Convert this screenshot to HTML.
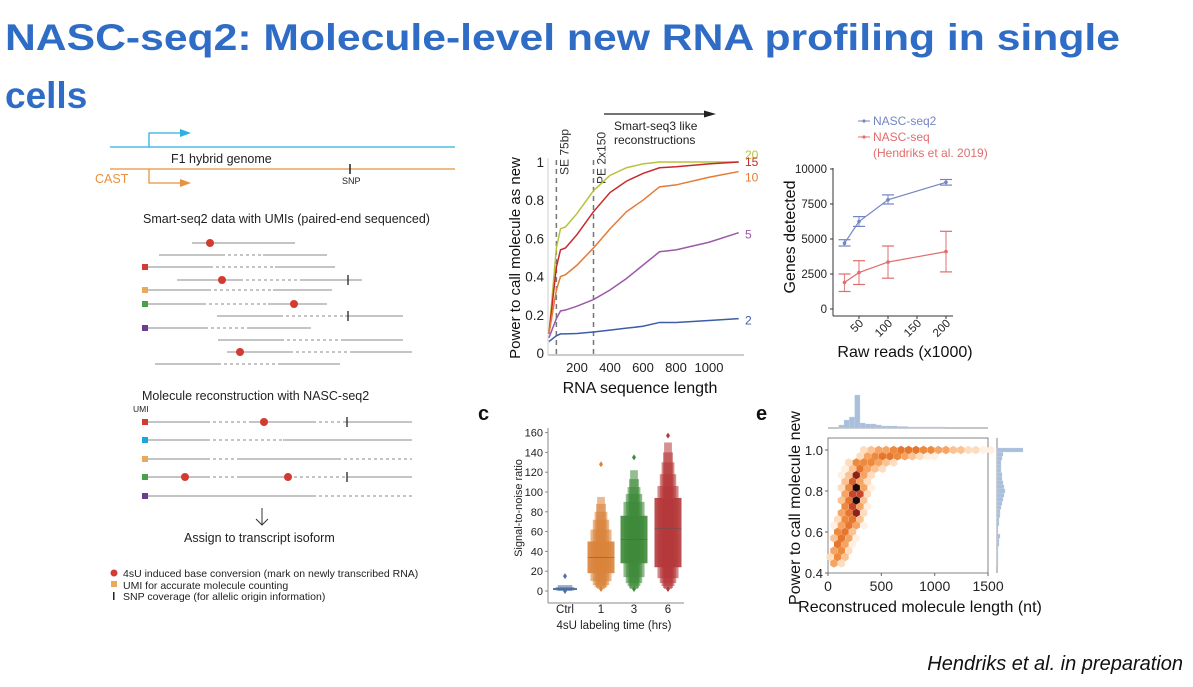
<!DOCTYPE html>
<html><head><meta charset="utf-8"><style>
body{margin:0;background:#fff;}
svg{display:block;font-family:"Liberation Sans",sans-serif;}
</style></head><body>
<svg id="s" width="1193" height="687" viewBox="0 0 1193 687" xmlns="http://www.w3.org/2000/svg">
<rect width="1193" height="687" fill="#fff"/>
<text x="5" y="50" font-size="37" font-weight="bold" fill="#2f6cc6" textLength="1115" lengthAdjust="spacingAndGlyphs">NASC-seq2: Molecule-level new RNA profiling in single</text>
<text x="5" y="108" font-size="37" font-weight="bold" fill="#2f6cc6">cells</text>

<g fill="none">
<line x1="110" y1="147" x2="455" y2="147" stroke="#2bb0e0" stroke-width="1.3"/>
<polyline points="149,147 149,133 180,133" stroke="#2bb0e0" stroke-width="1.3"/>
<polygon points="180,129 191,133 180,137" fill="#2bb0e0" stroke="none"/>
<line x1="110" y1="169" x2="455" y2="169" stroke="#e8913f" stroke-width="1.3"/>
<polyline points="149,169 149,183 180,183" stroke="#e8913f" stroke-width="1.3"/>
<polygon points="180,179 191,183 180,187" fill="#e8913f" stroke="none"/>
<line x1="350" y1="164" x2="350" y2="174" stroke="#222" stroke-width="1.5"/>
</g>
<text x="171" y="163" font-size="12.5" fill="#222">F1 hybrid genome</text>
<text x="95" y="183" font-size="12.5" fill="#e8913f">CAST</text>
<text x="342" y="184" font-size="9" fill="#222">SNP</text>
<text x="143" y="223" font-size="12.5" fill="#222">Smart-seq2 data with UMIs (paired-end sequenced)</text>
<g id="reads"></g>
<text x="142" y="400" font-size="12.5" fill="#222">Molecule reconstruction with NASC-seq2</text>
<text x="133" y="412" font-size="8.5" fill="#222">UMI</text>
<g stroke="#333" fill="none" stroke-width="1"><line x1="262" y1="508" x2="262" y2="525"/><polyline points="256,519 262,525 268,519"/></g>
<text x="184" y="542" font-size="12.5" fill="#222">Assign to transcript isoform</text>
<circle cx="114" cy="573" r="3.5" fill="#d33a32"/>
<text x="123" y="577" font-size="10.5" fill="#222">4sU induced base conversion (mark on newly transcribed RNA)</text>
<rect x="111" y="581" width="6" height="6" fill="#eaa95a"/>
<text x="123" y="589" font-size="10.5" fill="#222">UMI for accurate molecule counting</text>
<rect x="113" y="592" width="1.5" height="8" fill="#222"/>
<text x="123" y="600" font-size="10.5" fill="#222">SNP coverage (for allelic origin information)</text>

<g id="chartB"></g>
<g id="chartD"></g>
<g id="chartC"></g>
<g id="chartE"></g>

<text x="1183" y="670" text-anchor="end" font-size="20" font-style="italic" fill="#111">Hendriks et al. in preparation</text>
</svg>
<script>
const NS="http://www.w3.org/2000/svg";
function mk(p,tag,a){const e=document.createElementNS(NS,tag);for(const k in a)e.setAttribute(k,a[k]);p.appendChild(e);return e;}
function txt(p,x,y,s,a){const e=mk(p,'text',Object.assign({x:x,y:y},a||{}));e.textContent=s;return e;}

const readRowY=[243,255,267,280,290,304,316,328,340,352,364];
const readUmi=[null,null,'#d33a32',null,'#eaa95a','#4aa04a',null,'#6b3d8f',null,null,null];
const readSegs=[[[192,295,1]],[[159,222,1],[222,263,0],[263,327,1]],[[148,210,1],[210,275,0],[275,335,1]],[[177,240,1],[240,303,0],[303,362,1]],[[148,208,1],[208,273,0],[273,332,1]],[[148,203,1],[203,268,0],[268,327,1]],[[217,280,1],[280,345,0],[345,403,1]],[[148,205,1],[205,247,0],[247,311,1]],[[218,281,1],[281,343,0],[343,403,1]],[[227,290,1],[290,352,0],[352,412,1]],[[155,218,1],[218,280,0],[280,340,1]]];
const readDots=[[210],[],[],[222],[],[294],[],[],[],[240],[]];
const readSnps=[[],[],[],[348],[],[],[348],[],[],[],[]];
const reconY=[422,440,459,477,496];
const reconUmi=['#d33a32','#1aa7df','#eaa95a','#4aa04a','#6b3d8f'];
const reconSegs=[[[148,207,1],[207,250,0],[250,313,1],[313,345,0],[345,412,1]],[[148,207,1],[207,283,0],[283,412,1]],[[148,207,1],[207,238,0],[238,338,1],[338,412,0]],[[148,207,1],[207,238,0],[238,288,1],[288,347,0],[347,412,1]],[[148,313,1],[313,412,0]]];
const reconDots=[[264],[],[],[185,288],[]];
const reconSnps=[[347],[],[],[347],[]];
const rg=document.getElementById('reads');
function drawRow(y,umi,segs,dots,snps,nm){
  const g=mk(rg,'g',{});
  
  
  if(umi)mk(g,'rect',{x:142,y:y-3,width:6,height:6,fill:umi});
  segs.forEach(s=>{const l=mk(g,'line',{x1:s[0],x2:s[1],y1:y,y2:y,stroke:'#8a8a8a','stroke-width':1});if(!s[2])l.setAttribute('stroke-dasharray','3,3');});
  snps.forEach(x=>mk(g,'line',{x1:x,x2:x,y1:y-5,y2:y+5,stroke:'#222','stroke-width':1.3}));
  dots.forEach(x=>mk(g,'circle',{cx:x,cy:y,r:4,fill:'#d33a32'}));
}
readRowY.forEach((y,i)=>drawRow(y,readUmi[i],readSegs[i],readDots[i],readSnps[i],'read-row'));
reconY.forEach((y,i)=>drawRow(y,reconUmi[i],reconSegs[i],reconDots[i],reconSnps[i],'reconstructed-molecule'));

/* ---------- chart B ---------- */
const bLengths=[30,75,100,130,200,300,400,500,600,700,800,1000,1180];
const bDepths=['20','15','10','5','2'];
const bSeries20=[0.1,0.55,0.65,0.66,0.73,0.85,0.93,0.97,0.99,1.0,1.0,1.0,1.0];
const bSeries15=[0.1,0.45,0.54,0.55,0.62,0.74,0.84,0.9,0.94,0.97,0.975,0.99,1.0];
const bSeries10=[0.1,0.33,0.4,0.41,0.46,0.55,0.65,0.74,0.8,0.87,0.88,0.92,0.95];
const bSeries5=[0.08,0.18,0.22,0.225,0.245,0.28,0.33,0.39,0.46,0.53,0.54,0.58,0.63];
const bSeries2=[0.06,0.09,0.1,0.1,0.102,0.11,0.12,0.13,0.14,0.16,0.16,0.17,0.18];
const bColors=['#b8c13c','#c8282c','#e57a35','#9b59a8','#3d5da8'];
const bYTicks=[0,0.2,0.4,0.6,0.8,1];
const bYTickLabels=['0','0.2','0.4','0.6','0.8','1'];
const bXTicks=[200,400,600,800,1000];
const bVLines=[75,300];
const bVLabels=['SE 75bp','PE 2x150'];
(function(){
 const g=document.getElementById('chartB');
 const X=v=>544+v*0.165, Y=v=>353-v*191;
 mk(g,'line',{x1:548,y1:355,x2:744,y2:355,stroke:'#999'});
 mk(g,'line',{x1:548,y1:158,x2:548,y2:355,stroke:'#ccc'});
 bYTicks.forEach((t,i)=>{const e=txt(g,544,Y(t)+5,bYTickLabels[i],{'font-size':13.5,'text-anchor':'end',fill:'#222'});
 
 });
 bXTicks.forEach(t=>{const e=txt(g,X(t),372,String(t),{'font-size':13,'text-anchor':'middle',fill:'#222'});
 
 });
 bVLines.forEach((v,i)=>{const l=mk(g,'line',{x1:X(v),x2:X(v),y1:160,y2:355,stroke:'#777','stroke-width':1.5,'stroke-dasharray':'5,4'});
 
 
 const t=txt(g,0,0,bVLabels[i],{'font-size':12,fill:'#333',transform:`translate(${X(v)+12},${i?184:175}) rotate(-90)`});
 
 });
 const all=[bSeries20,bSeries15,bSeries10,bSeries5,bSeries2];
 all.forEach((s,i)=>{const p=mk(g,'polyline',{points:s.map((v,j)=>X(bLengths[j])+','+Y(v)).join(' '),fill:'none',stroke:bColors[i],'stroke-width':1.5});
 
 
 const lab=txt(g,745,Y(s[s.length-1])+(i==0?-3:i==1?4:i==2?10:6),bDepths[i],{'font-size':12,fill:bColors[i]});
 
 });
 const ax=txt(g,640,393,'RNA sequence length',{'font-size':16,'text-anchor':'middle',fill:'#111'});
 
 
 const ay=txt(g,0,0,'Power to call molecule as new',{'font-size':15,'text-anchor':'middle',fill:'#111',transform:'translate(520,258) rotate(-90)'});
 
 
 const ar=mk(g,'line',{x1:604,y1:114,x2:705,y2:114,stroke:'#222','stroke-width':1.2});
 
 
 mk(g,'polygon',{points:'704,110.5 716,114 704,117.5',fill:'#222'});
 const t1=txt(g,614,130,'Smart-seq3 like',{'font-size':12,fill:'#222'});
 
 
 const t2=txt(g,614,144,'reconstructions',{'font-size':12,fill:'#222'});
 
 
})();

/* ---------- chart D ---------- */
const dReads=[25,50,100,200];
const dSeq2Mean=[4700,6250,7800,9050];
const dSeq2Lo=[4500,5900,7500,8850];
const dSeq2Hi=[4950,6600,8150,9250];
const dSeqMean=[1900,2600,3350,4100];
const dSeqLo=[1250,1750,2200,2650];
const dSeqHi=[2500,3450,4500,5550];
const dYTicks=[0,2500,5000,7500,10000];
const dXTicks=[50,100,150,200];
(function(){
 const g=document.getElementById('chartD');
 const X=v=>830+v*0.58, Y=v=>309-v*0.014;
 mk(g,'line',{x1:833,y1:168,x2:833,y2:316,stroke:'#333'});
 mk(g,'line',{x1:833,y1:316,x2:953,y2:316,stroke:'#333'});
 dYTicks.forEach(t=>{mk(g,'line',{x1:830,x2:833,y1:Y(t),y2:Y(t),stroke:'#333'});
 const e=txt(g,827,Y(t)+4,String(t),{'font-size':11.5,'text-anchor':'end',fill:'#222'});
 
 });
 dXTicks.forEach(t=>{mk(g,'line',{x1:X(t),x2:X(t),y1:316,y2:319,stroke:'#333'});
 const e=txt(g,0,0,String(t),{'font-size':11.5,'text-anchor':'end',fill:'#222',transform:`translate(${X(t)+5},${324}) rotate(-45)`});
 
 });
 function series(mean,lo,hi,col,nm){
  const sg=mk(g,'g',{});
  
  
  mk(sg,'polyline',{points:mean.map((v,i)=>X(dReads[i])+','+Y(v)).join(' '),fill:'none',stroke:col,'stroke-width':1.2});
  mean.forEach((v,i)=>{const x=X(dReads[i]);
   mk(sg,'line',{x1:x,x2:x,y1:Y(lo[i]),y2:Y(hi[i]),stroke:col,'stroke-width':1.2,opacity:0.8});
   mk(sg,'line',{x1:x-6,x2:x+6,y1:Y(lo[i]),y2:Y(lo[i]),stroke:col,'stroke-width':1.2});
   mk(sg,'line',{x1:x-6,x2:x+6,y1:Y(hi[i]),y2:Y(hi[i]),stroke:col,'stroke-width':1.2});
   mk(sg,'circle',{cx:x,cy:Y(v),r:1.8,fill:col});});
 }
 series(dSeq2Mean,dSeq2Lo,dSeq2Hi,'#7386c4','nasc-seq2-series');
 series(dSeqMean,dSeqLo,dSeqHi,'#e06c6c','nasc-seq-series');
 const l1=mk(g,'line',{x1:858,x2:870,y1:121,y2:121,stroke:'#7386c4'});mk(g,'circle',{cx:864,cy:121,r:1.6,fill:'#7386c4'});
 
 
 const lt1=txt(g,873,125,'NASC-seq2',{'font-size':12,fill:'#7386c4'});
 
 
 const l2=mk(g,'line',{x1:858,x2:870,y1:137,y2:137,stroke:'#e06c6c'});mk(g,'circle',{cx:864,cy:137,r:1.6,fill:'#e06c6c'});
 
 
 const lt2=txt(g,873,141,'NASC-seq',{'font-size':12,fill:'#e06c6c'});
 
 
 const lt3=txt(g,873,157,'(Hendriks et al. 2019)',{'font-size':12,fill:'#e06c6c'});
 
 
 const ay=txt(g,0,0,'Genes detected',{'font-size':16,'text-anchor':'middle',fill:'#111',transform:'translate(795,237) rotate(-90)'});
 
 
 const ax=txt(g,905,357,'Raw reads (x1000)',{'font-size':16,'text-anchor':'middle',fill:'#111'});
 
 
})();

/* ---------- chart C ---------- */
const cGroups=['Ctrl','1','3','6'];
const cMedians=[2,34,52,63];
const cLevelsCtrl=[[1,3],[0.5,4],[0,6]];
const cLevels1=[[18,50],[10,62],[6,72],[4,80],[3,88],[2,95]];
const cLevels3=[[28,76],[14,90],[8,98],[5,105],[3,113],[2,122]];
const cLevels6=[[24,94],[13,106],[8,118],[5,130],[3,140],[2,150]];
const cOutliersHigh=[15,128,135,157];
const cOutliersLow=[0,2,2,2];
const cYTicks=[0,20,40,60,80,100,120,140,160];
(function(){
 const g=document.getElementById('chartC');
 const cx=[565,601,634,668];
 const Y=v=>591-v*0.99;
 const cols=['#4a72a8','#d9833b','#3e8a3a','#b5383a'];
 mk(g,'line',{x1:548,y1:428,x2:548,y2:603,stroke:'#888'});
 mk(g,'line',{x1:548,y1:603,x2:684,y2:603,stroke:'#888'});
 cYTicks.forEach(t=>{mk(g,'line',{x1:545,x2:548,y1:Y(t),y2:Y(t),stroke:'#888'});
 const e=txt(g,543,Y(t)+4,String(t),{'font-size':11,'text-anchor':'end',fill:'#222'});
 
 });
 const lv=[cLevelsCtrl,cLevels1,cLevels3,cLevels6];
 lv.forEach((levels,i)=>{
  const bg=mk(g,'g',{});
  
  
  const W=i==0?24:27;
  for(let k=levels.length-1;k>=0;k--){const w=W*Math.pow(0.78,k);const l=levels[k];
   mk(bg,'rect',{x:cx[i]-w/2,y:Y(l[1]),width:w,height:Y(l[0])-Y(l[1]),fill:cols[i],opacity:k==0?0.9:0.55+0.05*(levels.length-k)/levels.length});}
  mk(bg,'line',{x1:cx[i]-W/2,x2:cx[i]+W/2,y1:Y(cMedians[i]),y2:Y(cMedians[i]),stroke:'#555','stroke-width':0.8,opacity:0.6});
  mk(bg,'path',{d:`M${cx[i]} ${Y(cOutliersHigh[i])-3} l2 3 l-2 3 l-2 -3z`,fill:cols[i]});
  mk(bg,'path',{d:`M${cx[i]} ${Y(cOutliersLow[i])-3} l2 3 l-2 3 l-2 -3z`,fill:cols[i]});
  const e=txt(g,cx[i],613,cGroups[i],{'font-size':11.5,'text-anchor':'middle',fill:'#222'});
  
  
 });
 const ax=txt(g,614,629,'4sU labeling time (hrs)',{'font-size':11.5,'text-anchor':'middle',fill:'#222'});
 
 
 const ay=txt(g,0,0,'Signal-to-noise ratio',{'font-size':11,'text-anchor':'middle',fill:'#222',transform:'translate(522,508) rotate(-90)'});
 
 
 const pl=txt(g,478,420,'c',{'font-size':20,'font-weight':'bold',fill:'#111'});
 
 
})();

/* ---------- chart E ---------- */
const eRowPower=[1.0,0.969,0.939,0.908,0.877,0.846,0.816,0.785,0.754,0.724,0.693,0.662,0.632,0.601,0.570,0.540,0.509,0.478,0.447];
const eRowStart=[335,300,195,160,125,160,125,160,125,160,125,90,55,90,55,90,55,20,55];
const eRowCounts=[[2,3,4,4,5,6,6,6,5,5,4,4,3,3,2,2,1,1],[2,4,5,6,6,5,4,3,2,1,1],[2,5,5,5,4,3,2],[1,3,6,4,3,2],[1,3,9,4,2],[3,7,4,2],[2,5,10,4,1],[4,8,8,2],[3,6,10,3],[5,8,4,1],[4,6,9,2],[2,5,6,3],[1,4,6,4,1],[5,6,3],[3,6,4,1],[6,4,1],[4,5,2],[2,5,3],[4,2]];
const eTopBinStart=[100,150,200,250,300,350,400,450,500,550,600,650,700,750,800,850,900,950,1000,1050];
const eTopBinCount=[3,8,11,33,5,4,4,3,2,2,2,1.5,1.5,1,1,1,1,1,1,1];
const eRightBinPower=[0.44,0.46,0.48,0.5,0.52,0.54,0.56,0.58,0.6,0.62,0.64,0.66,0.68,0.7,0.72,0.74,0.76,0.78,0.8,0.82,0.84,0.86,0.88,0.9,0.92,0.94,0.96,0.98,1.0];
const eRightBinCount=[1,1,1,1,1,2,2,3,1,1,2,2,3,3,4,5,6,7,8,7,6,5,5,4,4,4,5,6,26];
const eXTicks=[0,500,1000,1500];
const eYTicks=[0.4,0.6,0.8,1.0];
(function(){
 const g=document.getElementById('chartE');
 const X=v=>828+v*0.1067, Y=v=>450+(1-v)*205;
 const pal=['#fff','#fef0e2','#fddcbf','#fbc293','#f6a463','#ee8a3d','#e5762c','#d9602a','#c9452b','#8e2119','#1f0b08'];
 mk(g,'rect',{x:828,y:438,width:160,height:135,fill:'none',stroke:'#666','stroke-width':0.8});
 const r=4.2;
 eRowCounts.forEach((row,i)=>row.forEach((c,k)=>{
  const x=X(eRowStart[i]+k*70), y=Y(eRowPower[i]);
  let d='';for(let a=0;a<6;a++){const an=Math.PI/3*a+Math.PI/6;d+=(a?'L':'M')+(x+r*Math.cos(an)).toFixed(2)+' '+(y+r*Math.sin(an)).toFixed(2);}
  const h=mk(g,'path',{d:d+'Z',fill:pal[Math.round(c)]});
  
  
 }));
 eXTicks.forEach(t=>{mk(g,'line',{x1:X(t),x2:X(t),y1:573,y2:576,stroke:'#666'});
 const e=txt(g,X(t),591,String(t),{'font-size':14,'text-anchor':'middle',fill:'#222'});
 
 });
 eYTicks.forEach(t=>{mk(g,'line',{x1:825,x2:828,y1:Y(t),y2:Y(t),stroke:'#666'});
 const e=txt(g,823,Y(t)+5,t.toFixed(1),{'font-size':13,'text-anchor':'end',fill:'#222'});
 
 });
 mk(g,'line',{x1:828,y1:428,x2:988,y2:428,stroke:'#666','stroke-width':0.8});
 eTopBinStart.forEach((b,i)=>{const hb=mk(g,'rect',{x:X(b),y:428-eTopBinCount[i],width:50*0.1067,height:eTopBinCount[i],fill:'#a9bfdc',stroke:'#c7d5e8','stroke-width':0.3});
 
 });
 mk(g,'line',{x1:997,y1:438,x2:997,y2:573,stroke:'#666','stroke-width':0.8});
 eRightBinPower.forEach((p,i)=>{const hb=mk(g,'rect',{x:997,y:Y(p)-2,width:eRightBinCount[i],height:4,fill:'#a9bfdc',stroke:'#c7d5e8','stroke-width':0.3});
 
 });
 const ax=txt(g,920,612,'Reconstruced molecule length (nt)',{'font-size':16,'text-anchor':'middle',fill:'#111'});
 
 
 const ay=txt(g,0,0,'Power to call molecule new',{'font-size':16,'text-anchor':'middle',fill:'#111',transform:'translate(800,508) rotate(-90)'});
 
 
 const pl=txt(g,756,420,'e',{'font-size':20,'font-weight':'bold',fill:'#111'});
 
 
})();
</script>
</body></html>
